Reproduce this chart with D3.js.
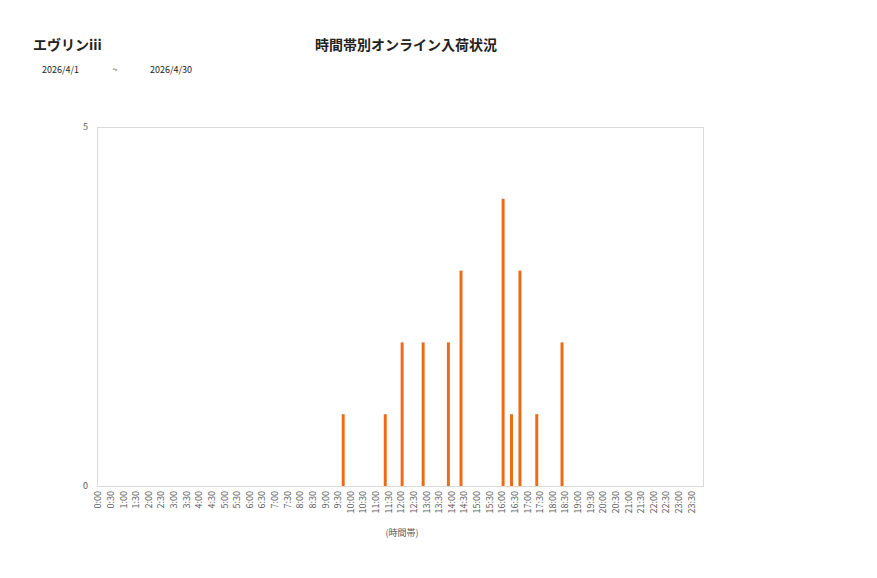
<!DOCTYPE html>
<html>
<head>
<meta charset="utf-8">
<script src="https://cdn.jsdelivr.net/npm/d3@7"></script>
<style>
    body { margin: 0; background: #fff; }
    text { font-family: "Noto Sans CJK JP", "Noto Sans", sans-serif; }
</style>
</head>
<body>
<div id="chart"></div>
<script>
// 10-minute slots, label every 30 minutes
var hours = d3.range(0, 24);
var minutes = ["00", "10", "20", "30", "40", "50"];
var slots = [];
hours.forEach(function (h) {
    minutes.forEach(function (m) { slots.push(h + ":" + m); });
});

// slots that had arrivals and their counts
var barSlots = ["9:40", "11:20", "12:00", "12:50", "13:50", "14:20", "16:00", "16:20", "16:40", "17:20", "18:20"];
var barCounts = [1, 1, 2, 2, 2, 3, 4, 1, 3, 1, 2];
var yTicks = [0, 5];

var shopName = "エヴリンiii";
var chartTitle = "時間帯別オンライン入荷状況";
var dateFrom = "2026/4/1";
var dateTo = "2026/4/30";
var xTitle = "(時間帯)";

var width = 877, height = 578;
var plotLeft = 97, plotRight = 703, plotTop = 127, plotBottom = 486;

var svg = d3.select("#chart").append("svg")
    .attr("width", width)
    .attr("height", height);

var x = d3.scaleBand()
    .domain(slots)
    .range([plotLeft, plotRight])
    .paddingInner(0.3)
    .paddingOuter(0.15);

var y = d3.scaleLinear()
    .domain([0, 5])
    .range([plotBottom, plotTop]);

// plot area border
svg.append("rect")
    .attr("x", plotLeft + 0.5)
    .attr("y", plotTop + 0.5)
    .attr("width", plotRight - plotLeft)
    .attr("height", plotBottom - plotTop)
    .attr("fill", "none")
    .attr("stroke", "#d9d9d9");

var data = barSlots.map(function (s, i) { return { slot: s, value: barCounts[i] }; });

svg.append("g").selectAll("rect")
    .data(data)
    .enter()
    .append("rect")
    .attr("x", function (d) { return x(d.slot); })
    .attr("y", function (d) { return y(d.value); })
    .attr("width", x.bandwidth())
    .attr("height", function (d) { return y(0) - y(d.value); })
    .attr("fill", "#EE6A14");

// y axis labels
var yAxis = d3.axisLeft(y).tickValues(yTicks).tickFormat(d3.format("d")).tickSize(0).tickPadding(9);
var gy = svg.append("g")
    .attr("transform", "translate(" + plotLeft + ",0)")
    .call(yAxis);
gy.select(".domain").remove();
gy.selectAll("text")
    .attr("fill", "#595959")
    .style("font-size", "9px");

// x axis labels, one every 30 minutes, rotated
var labelSlots = slots.filter(function (s, i) { return i % 3 === 0; });
var xAxis = d3.axisBottom(x).tickValues(labelSlots).tickSize(0).tickPadding(0);
var gx = svg.append("g")
    .attr("transform", "translate(0," + plotBottom + ")")
    .call(xAxis);
gx.select(".domain").remove();
gx.selectAll("text")
    .attr("fill", "#595959")
    .style("font-size", "9px")
    .attr("text-anchor", "end")
    .attr("dy", "0.35em")
    .attr("transform", "translate(-1,5) rotate(-90)")
    .attr("x", 0)
    .attr("y", 0);

// titles
svg.append("text")
    .attr("x", 33)
    .attr("y", 50)
    .style("font-size", "14px")
    .style("font-weight", "bold")
    .attr("fill", "#222")
    .text(shopName);

svg.append("text")
    .attr("x", 406)
    .attr("y", 50)
    .attr("text-anchor", "middle")
    .style("font-size", "14px")
    .style("font-weight", "bold")
    .attr("fill", "#222")
    .text(chartTitle);

svg.append("text")
    .attr("x", 42)
    .attr("y", 73)
    .style("font-size", "9px")
    .attr("fill", "#222")
    .text(dateFrom);

svg.append("text")
    .attr("x", 115)
    .attr("y", 73)
    .attr("text-anchor", "middle")
    .style("font-size", "9px")
    .attr("fill", "#222")
    .text("~");

svg.append("text")
    .attr("x", 150)
    .attr("y", 73)
    .style("font-size", "9px")
    .attr("fill", "#222")
    .text(dateTo);

svg.append("text")
    .attr("x", 402)
    .attr("y", 536)
    .attr("text-anchor", "middle")
    .style("font-size", "9px")
    .attr("fill", "#595959")
    .text(xTitle);
</script>
</body>
</html>
